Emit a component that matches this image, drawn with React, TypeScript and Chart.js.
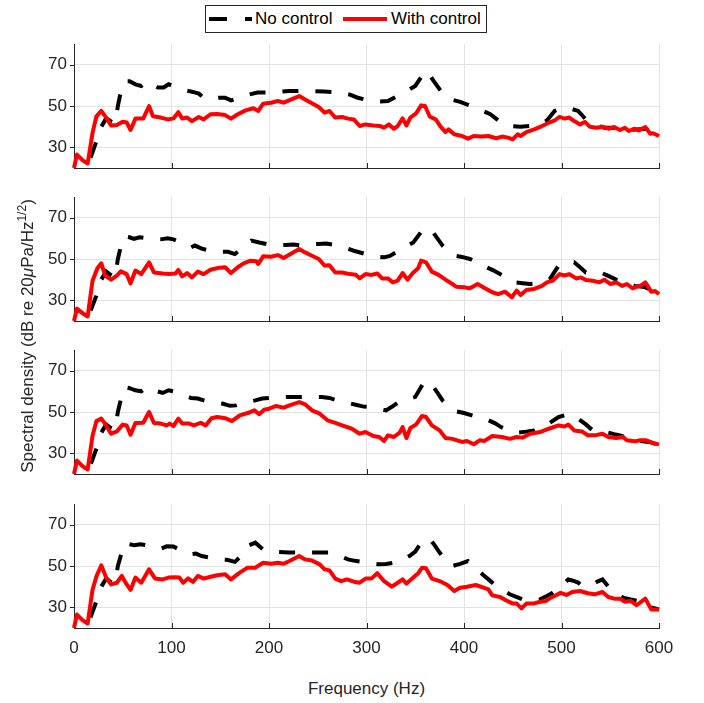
import React, { useEffect, useRef } from "react";
import { Chart, registerables } from "chart.js";

Chart.register(...registerables);

// ---------------- data ----------------
const xTickValues = [0, 100, 200, 300, 400, 500, 600];
const yTickValues = [30, 50, 70];
const X_MIN = 0;
const X_MAX = 600;
const Y_MIN = 20;
const Y_MAX = 80;

const seriesLabels = ["No control", "With control"];
const xTitle = "Frequency (Hz)";

// [frequency Hz, dB]
const withControl1: [number, number][] = [[0,20],[3,26.5],[9,23.7],[14,22.2],[19,37],[23,45],[28,47.6],[33,44.4],[38,40.6],[44,40.8],[50,42.4],[54,42],[58,38.4],[63,43.9],[71,43.9],[77,50],[81,45],[89,44.4],[96,43.5],[102,44],[107,47],[111,43.9],[116,44.4],[121,42.7],[128,44.7],[133,43.5],[140,46],[147,46.1],[155,45.6],[161,43.9],[168,46],[176,47.9],[184,48.9],[189,47.6],[194,51.1],[202,51.6],[209,52.4],[215,51.6],[223,53.2],[231,54.8],[237,53.2],[244,51.3],[251,49.5],[257,46.8],[262,47.6],[268,44.4],[275,44.7],[281,43.9],[287,43.5],[293,40.3],[299,41.1],[307,40.6],[314,40.3],[318,39.5],[323,41.1],[328,39],[332,40.3],[337,44],[341,40.6],[345,44.4],[351,46.5],[356,50.3],[360,50],[365,44.8],[371,43.5],[376,40],[381,37.4],[384,38.7],[390,36.3],[398,35.5],[404,34.2],[410,35.5],[418,35.2],[425,35.5],[433,34.4],[439,35.2],[445,34.7],[450,33.9],[455,36.3],[458,35.5],[464,37.4],[472,38.7],[480,40.3],[487,41.9],[493,43],[498,44.8],[503,43.9],[508,44.4],[513,42.7],[519,41.1],[524,42.3],[529,40],[536,39.5],[542,40],[548,39],[554,39.8],[560,38.4],[565,39.5],[569,37.9],[575,39],[579,38.2],[586,39.8],[591,36.6],[594,36.8],[600,35.5]];
const noControl1: [number, number][] = [[0,15],[10,16],[14,20],[17,25],[23,33],[28,40],[33,44],[38,42.5],[42,41.5],[45,50],[48,57],[52,62],[57,62],[63,60.5],[69,59.7],[75,62],[80,60.5],[86,59],[92,59],[97,60.5],[106,59.2],[113,57.8],[122,56.8],[128,56],[133,54],[140,53.5],[148,54],[155,54],[161,52.7],[166,53.5],[175,55],[188,56.5],[204,56.5],[221,57.3],[239,57.3],[256,57],[274,56.5],[283,55.5],[291,54],[305,52.4],[314,52.2],[322,52.4],[338,56.5],[350,59.7],[359,66],[362,67],[369,62],[380,54.8],[388,53],[396,52],[412,49.2],[420,47.5],[427,46],[441,41],[450,40.2],[458,40],[476,40.6],[485,43],[493,47.6],[500,49],[505,49.2],[511,48.5],[517,47.6],[528,42],[536,40.5],[544,39.5],[556,39.5],[563,39],[571,38.4],[587,39],[593,37],[600,36]];

const withControl2: [number, number][] = [[0,20],[3,26],[9,23.7],[14,22.2],[19,39.5],[24,45.5],[28,47.9],[32,42],[38,40],[44,42],[48,44],[54,42.7],[58,38.2],[63,44.4],[69,42.7],[77,48.4],[82,43.5],[91,43],[98,42.7],[104,43],[107,44.7],[111,41.6],[116,43.2],[121,41.1],[127,43.9],[133,42.7],[140,44.8],[147,45.6],[155,46],[161,43.2],[168,46],[174,47.9],[181,49.2],[187,48.9],[189,47.6],[194,51.3],[202,51.1],[209,51.9],[215,50.5],[222,52.4],[231,54.8],[237,53.2],[244,51.6],[251,50],[257,46.8],[262,47],[268,43.5],[275,43.5],[283,42.7],[289,42.4],[293,40.6],[299,42.7],[305,42.3],[311,43],[316,40.6],[322,40.6],[327,38.7],[332,39.5],[337,43.2],[342,40],[348,43.5],[353,45.5],[356,49.2],[361,48.4],[367,43.9],[374,42.3],[381,40],[388,37.9],[392,36.6],[400,36.3],[406,35.8],[414,37.9],[421,36],[429,33.9],[435,33],[442,34.2],[449,31.5],[454,34.7],[458,32.6],[464,35],[472,35.5],[480,37],[485,38.7],[491,39.5],[498,42.7],[503,42],[508,42.7],[515,40.6],[520,41.1],[525,39.8],[532,39.5],[539,38.7],[544,40],[550,37.9],[556,38.7],[562,37],[567,37.9],[573,35.8],[577,36.6],[581,37],[586,38.7],[592,34.2],[596,34.5],[600,33]];
const noControl2: [number, number][] = [[0,15],[10,16],[14,20],[17,25],[23,32.3],[28,40],[33,44],[37,42.5],[42,41],[45,50],[48,56],[52,61],[57,60.5],[61.5,59.7],[67,60.5],[75,60],[82,59.5],[89,59.5],[96,60],[102,59.5],[110,58],[120,55.6],[124,56.5],[131,55],[140,54],[151,53.5],[158,53.5],[165,52.4],[172,55],[182,58.9],[190,58],[198,57.2],[207,56.5],[217,56.8],[225,57],[233,56.5],[242,57],[250,57.3],[259,57.5],[268,56.8],[278,55.5],[287,54],[299,52.4],[308,51.3],[318,50.8],[324,51.5],[330,53.2],[340,56],[348,58],[357,63.7],[361,65],[367,63.7],[378,56.5],[384,53.5],[390,51.6],[398,51],[406,50],[415,48],[423,46],[430,44.5],[437,42.7],[445,40.5],[452,38.7],[460,38.3],[468,37.9],[478,38.5],[488,40.3],[497,46.8],[502,48],[507,48.3],[513,48.4],[519,46],[525,43.5],[532,43.5],[540,43.5],[548,41.8],[556,40],[565,38.5],[575,37],[585,36.5],[592,35],[600,34]];

const withControl3: [number, number][] = [[0,20],[3,26.5],[9,23.7],[14,22.2],[19,38.5],[23,45.6],[28,46.8],[33,43.5],[38,39.5],[44,40.6],[50,43.9],[54,43.5],[58,39],[63,44.7],[71,44.8],[77,50],[82,44.7],[89,44.4],[95,43.5],[98,44.4],[102,43.2],[107,46.8],[111,44.4],[118,44.4],[123,43.5],[130,44.8],[135,43.5],[141,47],[147,47.6],[155,47],[162,45.6],[170,48.4],[178,49.5],[185,50.8],[190,48.9],[195,51.1],[200,51.6],[207,52.9],[215,52.1],[221,53.2],[231,54.8],[237,53.7],[244,50.8],[252,49.2],[260,46],[268,44.7],[275,43.5],[285,41.9],[293,39.5],[299,40.3],[307,38.4],[313,37.9],[318,36],[322,38.7],[328,37.9],[334,40],[337,42.7],[341,37.4],[345,42.3],[351,44],[357,48.1],[361,47.6],[367,43.5],[375,41.1],[381,37.4],[388,37],[398,35.5],[403,36],[410,34.4],[416,36.3],[421,36],[429,38.4],[439,37.9],[447,37],[454,37.9],[460,37.6],[468,39.5],[478,40.3],[487,41.9],[497,43.5],[503,43],[507,43.9],[513,41.1],[521,40.6],[527,38.7],[534,38.7],[542,39.5],[548,37.9],[556,37.4],[563,37.9],[567,36.3],[575,35.8],[581,36.3],[587,36.3],[593,35.2],[600,34.2]];
const noControl3: [number, number][] = [[0,15],[10,16],[14,20],[17,24.5],[23,32.3],[28,40],[33,44],[37,42.5],[42,41.5],[45,50],[48,56],[52,62],[57,61.5],[63,60.5],[69,60],[75,62],[82,60.5],[91,59.2],[97,60.5],[102,60],[110,58.5],[120,56.8],[127,56.5],[133,55.6],[142,54.5],[153,54],[160,53],[166,53.2],[175,54.5],[186,55.6],[193,56.5],[200,56.8],[210,57],[220,57.3],[236,57.3],[245,57.3],[254,57.3],[262,56.8],[270,55.6],[280,54.5],[289,53.5],[297,52.6],[305,52.4],[313,51.5],[320,50.8],[326,52.5],[332,54.5],[341,56],[350,57.3],[359,64.5],[362,65],[369,62],[378,55.6],[385,52.5],[392,50.3],[400,49.5],[408,48.4],[416,47.3],[425,46],[432,44.5],[438,42.7],[447,41],[456,40],[464,40.5],[472,41.1],[482,43],[492,46],[497,47.5],[503,48.4],[510,49],[517,46.8],[525,44],[532,41.1],[540,40.5],[548,40],[554,39.3],[560,38.7],[570,37],[580,36],[590,35.5],[600,34]];

const withControl4: [number, number][] = [[0,20],[3,26.5],[9,23.7],[14,22.2],[19,38.5],[23,45],[28,50.3],[33,44.4],[38,41.1],[44,41.9],[49,45.2],[54,41.1],[58,38.4],[63,44.4],[69,41.9],[77,48.4],[83,44],[91,43.5],[97,44.4],[104,44.5],[108,44.4],[112,41.9],[117,44],[122,42.3],[127,45.2],[133,43.9],[140,44.8],[147,45.5],[155,46],[161,43.5],[170,46.8],[178,49.2],[186,49.2],[194,51.6],[202,51.1],[209,51.6],[215,51.1],[221,52.4],[231,54.8],[237,53.2],[244,52.7],[252,50.8],[257,48.4],[262,47.9],[268,43.9],[274,42.7],[280,43.5],[287,42.4],[293,41.9],[299,43.9],[305,43.9],[311,46.5],[318,42.7],[326,40],[332,41.9],[337,43.5],[341,41.5],[348,44.4],[353,46.5],[357,49.2],[361,48.9],[367,43.9],[375,42.7],[383,40.8],[390,37.9],[396,39.5],[403,40],[412,40.8],[420,39.5],[425,38.7],[429,35.8],[437,35],[443,33.4],[450,31.8],[454,31.8],[459,29.5],[464,31.8],[472,31.9],[478,32.7],[484,33.1],[489,34.7],[493,35.5],[499,37],[505,36],[511,37.4],[519,37.9],[527,36.8],[534,36.3],[542,37.4],[548,35],[554,34.2],[560,34.2],[565,32.7],[571,33.1],[577,31],[586,34.2],[592,29],[600,29]];
const noControl4: [number, number][] = [[0,15],[10,16],[14,20],[17,25.3],[23,33],[28,40],[33,44],[37,42.5],[42,41.5],[45,50],[48,55],[52,61],[57,60.5],[62,60],[68,60.5],[75,60],[82,59],[89,58.4],[95,59.5],[102,59.4],[110,57.5],[119,55.6],[125,56],[131,54.8],[140,54],[150,53.2],[157,53],[165,52],[172,55],[178,59.7],[186,61.3],[194,58],[203,57],[211,56.8],[220,56.5],[228,56.5],[237,56.5],[246,56.5],[255,56.5],[263,56.5],[272,55],[281,53.2],[288,52.5],[295,52],[304,51.3],[312,50.8],[320,51],[329,51.6],[337,53],[344,54.8],[350,57],[355,60.5],[360,63],[365,63],[370,60],[375,56.5],[381,53],[388,50],[396,51],[404,52.4],[412,49],[420,45.5],[427,42.8],[433,40.3],[440,38.2],[447,36.3],[455,34.8],[462,33.5],[470,33.5],[478,33.9],[485,35.5],[491,37],[499,40],[507,43.5],[511,43],[517,42],[521,40.3],[530,40.8],[538,42.7],[542,43.5],[548,40],[555,37.5],[563,34.7],[571,33.8],[579,33],[586,33],[592,30],[600,29]];

const panelNoControl = [noControl1, noControl2, noControl3, noControl4];
const panelWithControl = [withControl1, withControl2, withControl3, withControl4];

// ---------------- layout / style ----------------
const FONT = '"Liberation Sans", Arial, Helvetica, sans-serif';
const TEXT = "#262626";
const AXIS = "#262626";
const GRID = "#e3e3e3";
const RED = "#ff0000";
const BLACK = "#000000";
const W = 704;
const PLOT_LEFT = 74;
const PLOT_RIGHT = 659;
const PLOT_H = 124;
const PANEL_TOPS = [44, 197, 350, 504];
const PAD_TOP = 10;

const tickMarks = {
  id: "tickMarks",
  beforeDatasetsDraw(chart: any) {
    const { ctx, chartArea, scales } = chart;
    ctx.save();
    ctx.strokeStyle = AXIS;
    ctx.lineWidth = 1;
    ctx.beginPath();
    for (const v of xTickValues) {
      const px = Math.round(scales.x.getPixelForValue(v)) + 0.5;
      ctx.moveTo(px, chartArea.bottom);
      ctx.lineTo(px, chartArea.bottom - 5);
    }
    for (const v of yTickValues) {
      const py = Math.round(scales.y.getPixelForValue(v)) + 0.5;
      ctx.moveTo(chartArea.left, py);
      ctx.lineTo(chartArea.left - 4, py);
    }
    ctx.stroke();
    ctx.restore();
  },
};

const zeroPadding = (s: any) => {
  s.paddingTop = 0;
  s.paddingBottom = 0;
  s.paddingLeft = 0;
  s.paddingRight = 0;
};

function Panel({ idx }: { idx: number }) {
  const ref = useRef<HTMLCanvasElement | null>(null);
  const showX = idx === 3;
  const xh = showX ? 40 : 4;
  const h = PAD_TOP + PLOT_H + xh;
  useEffect(() => {
    if (!ref.current) return;
    const chart = new Chart(ref.current, {
      type: "line",
      data: {
        datasets: [
          {
            label: seriesLabels[1],
            data: panelWithControl[idx].map(([x, y]) => ({ x, y })),
            borderColor: RED,
            backgroundColor: RED,
            borderWidth: 4,
            pointRadius: 0,
            tension: 0,
            fill: false,
            borderJoinStyle: "round",
            clip: { left: 2, right: 2, top: 2, bottom: 0 },
          } as any,
          {
            label: seriesLabels[0],
            data: panelNoControl[idx].map(([x, y]) => ({ x, y })),
            borderColor: BLACK,
            backgroundColor: BLACK,
            borderWidth: 4,
            borderDash: [16, 17],
            borderDashOffset: 3,
            pointRadius: 0,
            tension: 0,
            fill: false,
            clip: { left: 2, right: 2, top: 2, bottom: 0 },
          } as any,
        ],
      },
      options: {
        animation: false,
        responsive: false,
        maintainAspectRatio: false,
        events: [],
        layout: { padding: { left: 0, right: W - PLOT_RIGHT, top: PAD_TOP, bottom: 0 } },
        plugins: { legend: { display: false }, tooltip: { enabled: false }, title: { display: false } },
        scales: {
          x: {
            type: "linear",
            min: X_MIN,
            max: X_MAX,
            afterBuildTicks: (s: any) => {
              s.ticks = xTickValues.map((v) => ({ value: v }));
            },
            afterFit: (s: any) => {
              s.height = xh;
              zeroPadding(s);
            },
            grid: { color: GRID, lineWidth: 1, drawTicks: false },
            border: { display: true, color: AXIS, width: 1 },
            ticks: {
              display: showX,
              font: { family: FONT, size: 17 },
              color: TEXT,
              padding: 10,
              maxRotation: 0,
              autoSkip: false,
            },
          },
          y: {
            type: "linear",
            min: Y_MIN,
            max: Y_MAX,
            afterBuildTicks: (s: any) => {
              s.ticks = yTickValues.map((v) => ({ value: v }));
            },
            afterFit: (s: any) => {
              s.width = PLOT_LEFT;
              zeroPadding(s);
            },
            grid: { color: GRID, lineWidth: 1, drawTicks: false },
            border: { display: true, color: AXIS, width: 1 },
            ticks: {
              font: { family: FONT, size: 17 },
              color: TEXT,
              padding: 7,
              autoSkip: false,
            },
          },
        },
      } as any,
      plugins: [tickMarks],
    });
    return () => chart.destroy();
  }, []);
  return (
    <canvas
      ref={ref}
      width={W}
      height={h}
      style={{ position: "absolute", left: 0, top: PANEL_TOPS[idx] - PAD_TOP, width: W, height: h }}
    />
  );
}

function Legend() {
  const dash = (left: number, width: number, color: string) => (
    <div style={{ position: "absolute", left, top: 11, width, height: 4, background: color }} />
  );
  const text = (left: number, s: string) => (
    <div style={{ position: "absolute", left, top: 0, lineHeight: "26px", fontSize: 17, color: "#000", whiteSpace: "nowrap" }}>{s}</div>
  );
  return (
    <div
      style={{
        position: "absolute",
        left: 205,
        top: 5,
        width: 282,
        height: 28,
        border: "1px solid #262626",
        boxSizing: "border-box",
        background: "#fff",
        fontFamily: FONT,
      }}
    >
      {dash(3, 18, BLACK)}
      {dash(39, 7, BLACK)}
      {text(49, seriesLabels[0])}
      {dash(137, 44, RED)}
      {text(185, seriesLabels[1])}
    </div>
  );
}

export default function App() {
  return (
    <div style={{ position: "absolute", left: 0, top: 0, width: W, height: 703, background: "#fff", overflow: "hidden", fontFamily: FONT }}>
      {[0, 1, 2, 3].map((i) => (
        <Panel key={i} idx={i} />
      ))}
      <Legend />
      <div
        style={{
          position: "absolute",
          left: 0,
          top: 679,
          width: PLOT_LEFT + PLOT_RIGHT,
          textAlign: "center",
          lineHeight: "20px",
          fontSize: 17,
          color: TEXT,
          whiteSpace: "nowrap",
        }}
      >
        {xTitle}
      </div>
      <div
        style={{
          position: "absolute",
          left: 28 - 200,
          top: 336 - 10,
          width: 400,
          height: 20,
          lineHeight: "20px",
          textAlign: "center",
          fontSize: 17,
          color: TEXT,
          whiteSpace: "nowrap",
          transform: "rotate(-90deg)",
          transformOrigin: "50% 50%",
        }}
      >
        Spectral density (dB re 20<i>μ</i>Pa/Hz<sup style={{ fontSize: 12, verticalAlign: "7px", lineHeight: 0 }}>1/2</sup>)
      </div>
    </div>
  );
}
